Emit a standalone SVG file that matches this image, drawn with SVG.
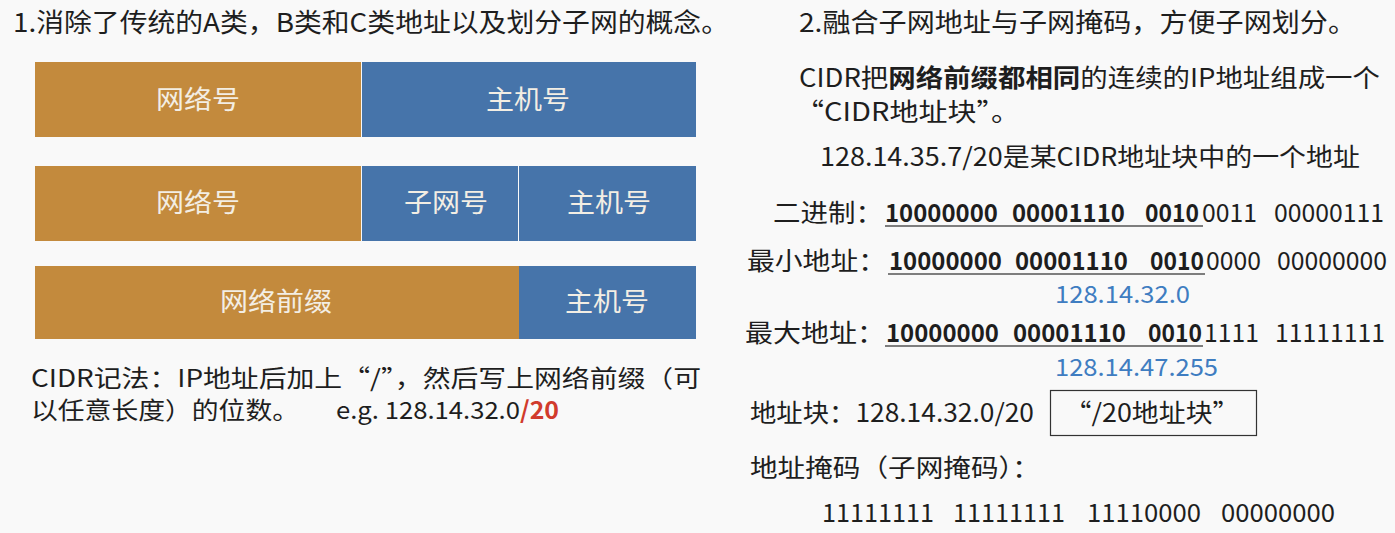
<svg xmlns="http://www.w3.org/2000/svg" width="1395" height="533" viewBox="0 0 1395 533">
<style>
text{font-family:"Noto Sans CJK SC","Liberation Sans",sans-serif;fill:#1e1e1e;}
.t{font-size:26px;}
.p{font-size:25px;}
.n{font-size:24px;}
.bar{font-size:26px;fill:#F3EEE4;text-anchor:middle;}
.b{font-weight:bold;}
.blue{fill:#3F7DC1;font-size:24px;}
.red{fill:#D13B2C;font-weight:bold;}
.org{fill:#C38A3D;}
.blu{fill:#4674AA;}
.ul{stroke:#555;stroke-width:1.5;}
</style>
<rect width="1395" height="533" fill="#F9F9F9"/>

<g id="title-left"><text class="t" x="13" y="32" textLength="716" lengthAdjust="spacingAndGlyphs">1.消除了传统的A类，B类和C类地址以及划分子网的概念。</text></g>

<g id="bar1">
<rect class="org" x="35" y="62" width="326" height="75"/>
<rect class="blu" x="362" y="62" width="334" height="75"/>
<text class="bar" x="198" y="109" textLength="84" lengthAdjust="spacingAndGlyphs">网络号</text>
<text class="bar" x="528" y="109" textLength="84" lengthAdjust="spacingAndGlyphs">主机号</text>
</g>
<g id="bar2">
<rect class="org" x="35" y="166" width="326" height="75"/>
<rect class="blu" x="362" y="166" width="156" height="75"/>
<rect class="blu" x="519" y="166" width="177" height="75"/>
<text class="bar" x="198" y="212" textLength="84" lengthAdjust="spacingAndGlyphs">网络号</text>
<text class="bar" x="446" y="212" textLength="84" lengthAdjust="spacingAndGlyphs">子网号</text>
<text class="bar" x="609" y="212" textLength="84" lengthAdjust="spacingAndGlyphs">主机号</text>
</g>
<g id="bar3">
<rect class="org" x="35" y="266" width="484" height="73"/>
<rect class="blu" x="519" y="266" width="177" height="73"/>
<text class="bar" x="276" y="311" textLength="112" lengthAdjust="spacingAndGlyphs">网络前缀</text>
<text class="bar" x="607" y="311" textLength="84" lengthAdjust="spacingAndGlyphs">主机号</text>
</g>

<g id="cidr-note">
<text class="n" x="31" y="387" textLength="670" lengthAdjust="spacingAndGlyphs">CIDR记法：IP地址后加上“/”，然后写上网络前缀（可</text>
<text class="n" x="31" y="419" textLength="268" lengthAdjust="spacingAndGlyphs">以任意长度）的位数。</text>
<text class="n" x="336" y="419" textLength="184" lengthAdjust="spacingAndGlyphs">e.g. 128.14.32.0</text>
<text class="n red" x="520" y="419" textLength="39" lengthAdjust="spacingAndGlyphs">/20</text>
</g>

<g id="title-right"><text class="t" x="799" y="32" textLength="557" lengthAdjust="spacingAndGlyphs">2.融合子网地址与子网掩码，方便子网划分。</text></g>

<g id="cidr-def">
<text class="p" x="799" y="87" textLength="581" lengthAdjust="spacingAndGlyphs">CIDR把<tspan class="b">网络前缀都相同</tspan>的连续的IP地址组成一个</text>
<text class="p" x="795" y="121" textLength="225" lengthAdjust="spacingAndGlyphs">“CIDR地址块”。</text>
<text class="p" x="820" y="166" textLength="540" lengthAdjust="spacingAndGlyphs">128.14.35.7/20是某CIDR地址块中的一个地址</text>
</g>

<g id="row-binary">
<text class="p" x="773" y="222" textLength="110" lengthAdjust="spacingAndGlyphs">二进制：</text>
<text class="p b" x="885" y="222" textLength="113" lengthAdjust="spacingAndGlyphs">10000000</text>
<text class="p b" x="1012" y="222" textLength="113" lengthAdjust="spacingAndGlyphs">00001110</text>
<text class="p b" x="1145" y="222" textLength="54" lengthAdjust="spacingAndGlyphs">0010</text>
<text class="p" x="1202" y="222" textLength="55" lengthAdjust="spacingAndGlyphs">0011</text>
<text class="p" x="1274" y="222" textLength="110" lengthAdjust="spacingAndGlyphs">00000111</text>
<line class="ul" x1="885" y1="226" x2="1203" y2="226"/>
</g>

<g id="row-min">
<text class="p" x="747" y="270" textLength="139" lengthAdjust="spacingAndGlyphs">最小地址：</text>
<text class="p b" x="889" y="270" textLength="113" lengthAdjust="spacingAndGlyphs">10000000</text>
<text class="p b" x="1015" y="270" textLength="113" lengthAdjust="spacingAndGlyphs">00001110</text>
<text class="p b" x="1150" y="270" textLength="54" lengthAdjust="spacingAndGlyphs">0010</text>
<text class="p" x="1206" y="270" textLength="55" lengthAdjust="spacingAndGlyphs">0000</text>
<text class="p" x="1277" y="270" textLength="110" lengthAdjust="spacingAndGlyphs">00000000</text>
<line class="ul" x1="888" y1="274" x2="1205" y2="274"/>
<text class="blue" x="1055" y="303" textLength="135" lengthAdjust="spacingAndGlyphs">128.14.32.0</text>
</g>

<g id="row-max">
<text class="p" x="745" y="342" textLength="140" lengthAdjust="spacingAndGlyphs">最大地址：</text>
<text class="p b" x="886" y="342" textLength="113" lengthAdjust="spacingAndGlyphs">10000000</text>
<text class="p b" x="1013" y="342" textLength="113" lengthAdjust="spacingAndGlyphs">00001110</text>
<text class="p b" x="1148" y="342" textLength="54" lengthAdjust="spacingAndGlyphs">0010</text>
<text class="p" x="1204" y="342" textLength="55" lengthAdjust="spacingAndGlyphs">1111</text>
<text class="p" x="1275" y="342" textLength="110" lengthAdjust="spacingAndGlyphs">11111111</text>
<line class="ul" x1="885" y1="346" x2="1203" y2="346"/>
<text class="blue" x="1055" y="376" textLength="163" lengthAdjust="spacingAndGlyphs">128.14.47.255</text>
</g>

<g id="block">
<text class="p" x="750" y="422" textLength="284" lengthAdjust="spacingAndGlyphs">地址块：128.14.32.0/20</text>
<rect x="1050.5" y="390.5" width="206" height="45" fill="none" stroke="#333" stroke-width="1.2"/>
<text class="p" x="1152" y="422" text-anchor="middle" textLength="175" lengthAdjust="spacingAndGlyphs">“/20地址块”</text>
</g>

<g id="mask">
<text class="p" x="750" y="477" textLength="290" lengthAdjust="spacingAndGlyphs">地址掩码（子网掩码）：</text>
<text class="p" x="822" y="522" textLength="112" lengthAdjust="spacingAndGlyphs">11111111</text>
<text class="p" x="953" y="522" textLength="112" lengthAdjust="spacingAndGlyphs">11111111</text>
<text class="p" x="1087" y="522" textLength="114" lengthAdjust="spacingAndGlyphs">11110000</text>
<text class="p" x="1221" y="522" textLength="114" lengthAdjust="spacingAndGlyphs">00000000</text>
</g>
</svg>
